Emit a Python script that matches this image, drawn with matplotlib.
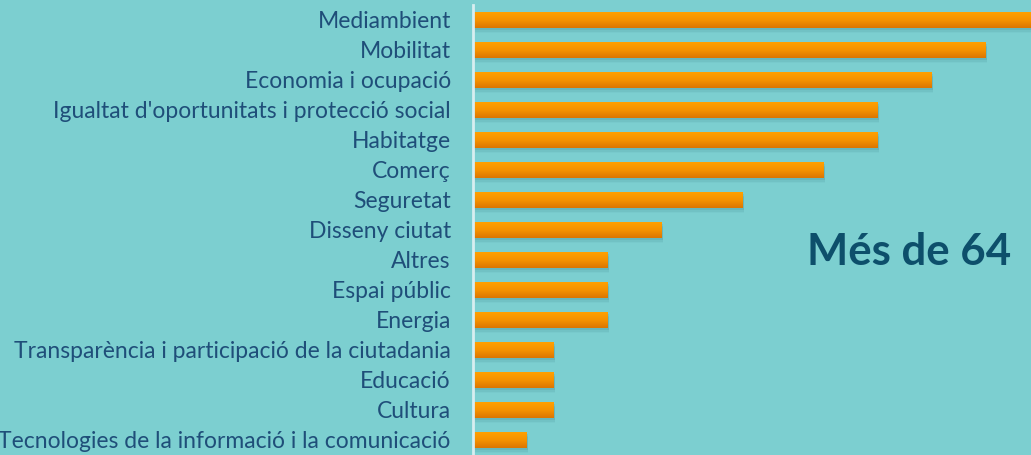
import numpy as np
import matplotlib.pyplot as plt
from matplotlib.colors import LinearSegmentedColormap

categories = ['Mediambient', 'Mobilitat', 'Economia i ocupació',
              "Igualtat d'oportunitats i protecció social", 'Habitatge',
              'Comerç', 'Seguretat', 'Disseny ciutat', 'Altres',
              'Espai públic', 'Energia',
              'Transparència i participació de la ciutadania',
              'Educació', 'Cultura',
              'Tecnologies de la informació i la comunicació']
values = [21, 19, 17, 15, 15, 13, 10, 7, 5, 5, 5, 3, 3, 3, 2]
title = 'Més de 64'

bg = '#7ccfd0'
W, H = 1031, 455
fig = plt.figure(figsize=(W / 100, H / 100), dpi=100, facecolor=bg)
ax = fig.add_axes([473 / W, 0, 1 - 473 / W, 450 / H])
ax.set_facecolor(bg)

y = np.arange(len(categories))
bh = 0.53
xmax = 558 / 27

# vertical orange gradient for each bar
grad = np.linspace(0, 1, 50).reshape(-1, 1)
cmap = LinearSegmentedColormap.from_list('o', ['#ffa000', '#f59200', '#dc7600'])

for yi, v in zip(y, values):
    # soft shadow under the bar
    for k, a in enumerate([0.10, 0.07, 0.04]):
        ax.barh(yi + 0.07 + k * 0.05, v + 0.05, height=bh, color='#1d5f6a',
                alpha=a, linewidth=0, zorder=1)
    ax.imshow(grad, cmap=cmap, aspect='auto', zorder=2,
              extent=[0, v, yi + bh / 2, yi - bh / 2], interpolation='bilinear')

ax.set_xlim(0, xmax)
ax.set_ylim(len(categories) - 0.5, -0.5)

ax.set_yticks(y)
ax.set_yticklabels(categories, fontsize=16.5, color='#1f4e79', family='Lato')
ax.tick_params(axis='y', length=0, pad=16)
ax.set_xticks([])
for s in ['top', 'right', 'bottom']:
    ax.spines[s].set_visible(False)
ax.spines['left'].set_color('#d8eef0')
ax.spines['left'].set_linewidth(2)

fig.text(909 / W, 1 - 252 / H, title, fontsize=31.5, fontweight='bold',
         color='#0d4f6b', ha='center', va='center', family='Lato')

fig.savefig('out.png', dpi=100, facecolor=bg)
